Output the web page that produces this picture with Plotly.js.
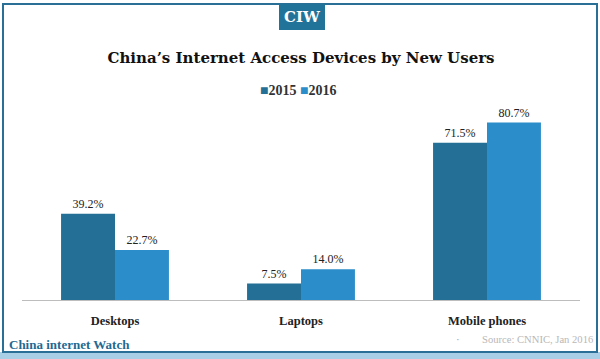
<!DOCTYPE html>
<html><head><meta charset="utf-8">
<script src="https://cdn.plot.ly/plotly-3.0.1.min.js"></script>
<style>html,body{margin:0;padding:0;background:#fff;}#c{width:600px;height:359px;}</style>
</head><body><div id="c"></div>
<script>
const categories = ["Desktops", "Laptops", "Mobile phones"];
const series2015 = [39.2, 7.5, 71.5];
const series2016 = [22.7, 14.0, 80.7];
const seriesNames = ["2015", "2016"];
const seriesColors = ["#236f95", "#2b8dc9"];

const W = 600, H = 359, L = 22, R = 20, T = 110, B = 59;
const pw = W - L - R, ph = H - T - B;
const px = x => (x - L) / pw;
const py = y => (H - B - y) / ph;
const serif = "DejaVu Serif";
const times = "Liberation Serif";

const fmt = v => v.toFixed(1) + "%";
const traces = [
  {type: "bar", name: seriesNames[0], x: categories, y: series2015, marker: {color: seriesColors[0]},
   text: series2015.map(fmt), textposition: "outside", cliponaxis: false,
   textfont: {family: times, size: 12, color: "#222"}},
  {type: "bar", name: seriesNames[1], x: categories, y: series2016, marker: {color: seriesColors[1]},
   text: series2016.map(fmt), textposition: "outside", cliponaxis: false,
   textfont: {family: times, size: 12, color: "#222"}}
];

const legendText = seriesNames.map((n, i) =>
  "<span style='color:" + seriesColors[i] + "'>■</span><b>" + n + "</b>").join(" ");

const layout = {
  width: W, height: H,
  margin: {l: L, r: R, t: T, b: B},
  paper_bgcolor: "#fff", plot_bgcolor: "#fff",
  barmode: "group", bargap: 0.42, bargroupgap: 0,
  showlegend: false,
  title: {text: "<b>China’s Internet Access Devices by New Users</b>", x: 0.5, xanchor: "center",
    xref: "paper", y: 1 - 58 / H, yanchor: "middle", yref: "container",
    font: {family: serif, size: 15, color: "#111"}},
  xaxis: {showline: true, linecolor: "#bdbdbd", linewidth: 1, ticks: "", showgrid: false,
    ticklabelstandoff: 9,
    tickfont: {family: times, size: 12.5, color: "#222", weight: "bold"}, fixedrange: true},
  yaxis: {range: [0, 86.4], visible: false, showgrid: false, zeroline: false, fixedrange: true},
  shapes: [
    {type: "rect", xref: "paper", yref: "paper", x0: px(0), x1: px(600), y0: py(352), y1: py(359),
     fillcolor: "#a9cfe6", line: {width: 0}, layer: "below"},
    {type: "rect", xref: "paper", yref: "paper", x0: px(3), x1: px(597), y0: py(4), y1: py(352),
     fillcolor: "rgba(0,0,0,0)", line: {color: "#2a6f96", width: 2}},
    {type: "rect", xref: "paper", yref: "paper", x0: px(279), x1: px(325), y0: py(4), y1: py(30),
     fillcolor: "#22739a", line: {width: 0}}
  ],
  annotations: [
    {text: legendText, xref: "paper", yref: "paper", x: px(298), y: py(91), showarrow: false,
     xanchor: "center", yanchor: "middle", font: {family: times, size: 14, color: "#333"}},
    {text: "<b>CIW</b>", xref: "paper", yref: "paper", x: px(302), y: py(17), showarrow: false,
     xanchor: "center", yanchor: "middle", font: {family: serif, size: 15, color: "#fff"}},
    {text: "<b>China internet Watch</b>", xref: "paper", yref: "paper", x: px(7), y: py(344), showarrow: false,
     xanchor: "left", yanchor: "middle", font: {family: times, size: 13, color: "#1f6a92"}},
    {text: "Source: CNNIC, Jan 2016", xref: "paper", yref: "paper", x: px(595), y: py(339), showarrow: false,
     xanchor: "right", yanchor: "middle", font: {family: times, size: 10.6, color: "#b8b8b8"}},
    {text: "·", xref: "paper", yref: "paper", x: px(458), y: py(339), showarrow: false,
     xanchor: "center", yanchor: "middle", font: {family: times, size: 11, color: "#999"}}
  ]
};
Plotly.newPlot("c", traces, layout, {displayModeBar: false, staticPlot: true});
</script></body></html>
